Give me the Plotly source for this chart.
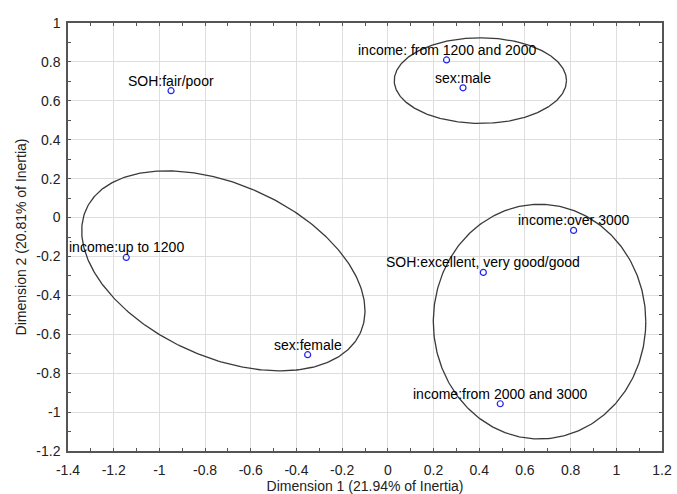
import numpy as np
import plotly.graph_objects as go

# --- data -------------------------------------------------------------
labels = [
    "SOH:fair/poor",
    "income: from 1200 and 2000",
    "sex:male",
    "income:over 3000",
    "income:up to 1200",
    "SOH:excellent, very good/good",
    "sex:female",
    "income:from 2000 and 3000",
]
dim1 = [-0.949, 0.257, 0.329, 0.813, -1.145, 0.418, -0.351, 0.492]
dim2 = [0.652, 0.810, 0.667, -0.066, -0.205, -0.282, -0.705, -0.957]

# ellipses: centre x, centre y, half-extent x, half-extent y, correlation
ell_cx = [0.405, 0.664, -0.720]
ell_cy = [0.704, -0.535, -0.274]
ell_sx = [0.377, 0.465, 0.620]
ell_sy = [0.220, 0.603, 0.514]
ell_rho = [0.0, 0.0, -0.40]

x_ticks = [-1.4, -1.2, -1, -0.8, -0.6, -0.4, -0.2, 0, 0.2, 0.4, 0.6, 0.8, 1, 1.2]
y_ticks = [-1.2, -1, -0.8, -0.6, -0.4, -0.2, 0, 0.2, 0.4, 0.6, 0.8, 1]

FONT = "Liberation Sans, Arial, sans-serif"

fig = go.Figure()

t = np.linspace(0, 2 * np.pi, 361)
for cx, cy, sx, sy, rho in zip(ell_cx, ell_cy, ell_sx, ell_sy, ell_rho):
    ex = cx + sx * np.cos(t)
    ey = cy + sy * (rho * np.cos(t) + np.sqrt(1 - rho ** 2) * np.sin(t))
    fig.add_trace(go.Scatter(x=ex, y=ey, mode="lines",
                             line=dict(color="#3a3a3a", width=1.3),
                             hoverinfo="skip", showlegend=False))

fig.add_trace(go.Scatter(
    x=dim1, y=dim2, mode="markers",
    marker=dict(symbol="circle-open", size=6, color="#2222ee",
                line=dict(width=1.2, color="#2222ee")),
    showlegend=False,
))

for lx, ly, lt in zip(dim1, dim2, labels):
    fig.add_annotation(x=lx, y=ly, text=lt, showarrow=False,
                       xanchor="center", yanchor="middle", yshift=10,
                       font=dict(family=FONT, size=14, color="#000000"))

def tick_text(v):
    return "%g" % v

axis_common = dict(
    showgrid=True, gridcolor="#dedede", gridwidth=1.2,
    zeroline=False, showline=True, linecolor="#555555", linewidth=1.5,
    mirror="allticks", ticks="inside", ticklen=3, tickcolor="#555555",
    tickfont=dict(family=FONT, size=14, color="#222222"),
    minor=dict(ticks="inside", ticklen=3, tickcolor="#555555", showgrid=False),
    title_font=dict(family=FONT, size=14, color="#222222"),
    automargin=False,
)

fig.update_xaxes(range=[-1.4, 1.2], tickvals=x_ticks,
                 ticktext=[tick_text(v) for v in x_ticks],
                 minor_dtick=0.1, minor_tick0=0,
                 ticklabelstandoff=5,
                 title_text="Dimension 1 (21.94% of Inertia)", title_standoff=7,
                 **axis_common)
fig.update_yaxes(range=[-1.2, 1.0], tickvals=y_ticks,
                 ticktext=[tick_text(v) for v in y_ticks],
                 minor_dtick=0.1, minor_tick0=0,
                 ticklabelstandoff=3,
                 title_text="Dimension 2 (20.81% of Inertia)", title_standoff=6,
                 **axis_common)

fig.update_layout(
    width=677, height=494,
    margin=dict(l=68, r=15, t=23, b=43),
    plot_bgcolor="white", paper_bgcolor="white",
    font=dict(family=FONT),
)

fig.write_html("out.html")
